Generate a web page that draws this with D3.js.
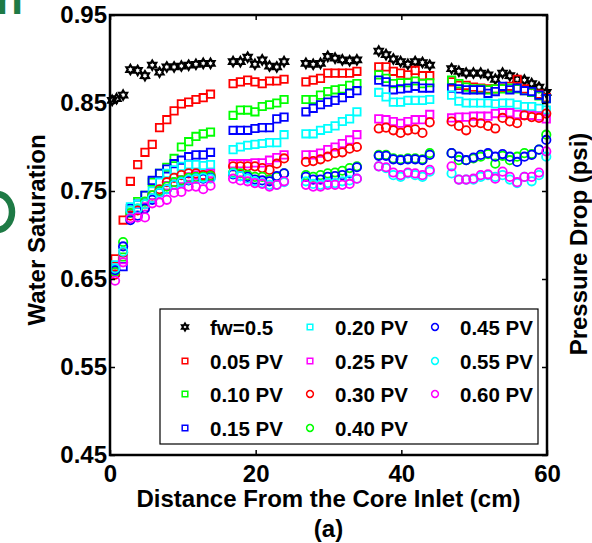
<!DOCTYPE html>
<html>
<head>
<meta charset="utf-8">
<script src="https://cdn.jsdelivr.net/npm/d3@7"></script>
<style>
body { margin: 0; background: #fff; }
svg { display: block; font-family: "Liberation Sans", Arial, sans-serif; font-weight: bold; }
</style>
</head>
<body>
<div id="chart"></div>
<script>
// distances (cm) for the injected-PV series, and for the fw=0.5 steady-state series
const distance = [0.7, 1.8, 2.8, 3.8, 4.8, 5.8, 6.8, 7.8, 8.8, 9.8, 10.8, 11.8, 12.8, 13.8,
	16.9, 17.9, 18.9, 19.9, 20.9, 21.9, 22.9, 23.9,
	26.9, 27.9, 28.9, 29.9, 30.9, 31.9, 32.9, 33.9,
	36.9, 37.9, 38.9, 39.9, 40.9, 41.9, 42.9, 43.9,
	46.9, 47.9, 48.9, 49.9, 50.9, 51.9, 52.9, 53.9, 54.9, 55.9, 56.9, 57.9, 58.9, 59.9];
const fwDistance = [0.3, 0.9, 1.8, 2.8, 3.8, 4.8, 5.8, 6.8, 7.8, 8.8, 9.8, 10.8, 11.8, 12.8, 13.8,
	16.9, 17.9, 18.9, 19.9, 20.9, 21.9, 22.9, 23.9,
	26.9, 27.9, 28.9, 29.9, 30.9, 31.9, 32.9, 33.9,
	36.9, 37.9, 38.9, 39.9, 40.9, 41.9, 42.9, 43.9,
	46.9, 47.9, 48.9, 49.9, 50.9, 51.9, 52.9, 53.9, 54.9, 55.9, 56.9, 57.9, 58.9, 59.9];

const fw05 = [0.853, 0.855, 0.859, 0.888, 0.887, 0.881, 0.893, 0.885, 0.891, 0.891, 0.892, 0.893, 0.894, 0.895, 0.895,
	0.897, 0.897, 0.902, 0.894, 0.899, 0.892, 0.891, 0.897,
	0.895, 0.894, 0.895, 0.903, 0.901, 0.899, 0.898, 0.899,
	0.909, 0.905, 0.900, 0.897, 0.894, 0.897, 0.896, 0.893,
	0.889, 0.886, 0.884, 0.884, 0.884, 0.882, 0.877, 0.884, 0.881, 0.877, 0.876, 0.872, 0.868, 0.862];

const pv05 = [0.673, 0.717, 0.761, 0.780, 0.794, 0.803, 0.822, 0.831, 0.841, 0.849, 0.851, 0.854, 0.856, 0.860,
	0.872, 0.874, 0.876, 0.874, 0.872, 0.875, 0.875, 0.877,
	0.874, 0.876, 0.878, 0.884, 0.884, 0.884, 0.884, 0.886,
	0.891, 0.891, 0.886, 0.884, 0.882, 0.887, 0.881, 0.881,
	0.874, 0.870, 0.870, 0.868, 0.867, 0.866, 0.866, 0.867, 0.869, 0.877, 0.866, 0.862, 0.860, 0.856];
const pv10 = [0.660, 0.675, 0.728, 0.738, 0.745, 0.760, 0.770, 0.777, 0.787, 0.800, 0.806, 0.812, 0.815, 0.817,
	0.836, 0.842, 0.842, 0.840, 0.846, 0.848, 0.850, 0.854,
	0.854, 0.854, 0.859, 0.863, 0.865, 0.866, 0.870, 0.872,
	0.882, 0.878, 0.872, 0.873, 0.873, 0.875, 0.872, 0.873,
	0.876, 0.872, 0.868, 0.866, 0.866, 0.865, 0.866, 0.866, 0.867, 0.866, 0.864, 0.862, 0.858, 0.855];
const pv15 = [0.662, 0.664, 0.730, 0.735, 0.745, 0.762, 0.770, 0.775, 0.781, 0.785, 0.789, 0.791, 0.791, 0.794,
	0.819, 0.819, 0.819, 0.821, 0.822, 0.822, 0.832, 0.834,
	0.840, 0.844, 0.848, 0.851, 0.853, 0.856, 0.861, 0.864,
	0.876, 0.874, 0.865, 0.866, 0.867, 0.869, 0.867, 0.867,
	0.867, 0.866, 0.865, 0.865, 0.865, 0.861, 0.863, 0.869, 0.865, 0.867, 0.864, 0.863, 0.859, 0.855];
const pv20 = [0.666, 0.680, 0.732, 0.735, 0.738, 0.750, 0.760, 0.770, 0.774, 0.778, 0.780, 0.780, 0.779, 0.780,
	0.797, 0.800, 0.802, 0.803, 0.804, 0.805, 0.805, 0.814,
	0.815, 0.815, 0.819, 0.821, 0.824, 0.829, 0.832, 0.840,
	0.862, 0.857, 0.851, 0.851, 0.853, 0.853, 0.853, 0.854,
	0.859, 0.852, 0.850, 0.850, 0.850, 0.850, 0.849, 0.850, 0.850, 0.848, 0.846, 0.846, 0.844, 0.842];
const pv25 = [0.658, 0.672, 0.725, 0.728, 0.732, 0.742, 0.750, 0.756, 0.760, 0.763, 0.766, 0.768, 0.768, 0.770,
	0.781, 0.781, 0.781, 0.782, 0.782, 0.785, 0.788, 0.791,
	0.791, 0.791, 0.793, 0.797, 0.800, 0.804, 0.808, 0.814,
	0.832, 0.831, 0.829, 0.827, 0.829, 0.831, 0.831, 0.837,
	0.833, 0.834, 0.834, 0.835, 0.835, 0.835, 0.838, 0.839, 0.839, 0.837, 0.836, 0.836, 0.835, 0.832];
const pv30 = [0.655, 0.680, 0.722, 0.728, 0.735, 0.745, 0.752, 0.760, 0.765, 0.768, 0.770, 0.770, 0.768, 0.768,
	0.778, 0.778, 0.778, 0.778, 0.776, 0.774, 0.781, 0.787,
	0.783, 0.784, 0.786, 0.789, 0.793, 0.794, 0.798, 0.800,
	0.821, 0.822, 0.819, 0.816, 0.819, 0.820, 0.816, 0.828,
	0.829, 0.824, 0.819, 0.828, 0.827, 0.824, 0.821, 0.833, 0.829, 0.827, 0.836, 0.834, 0.833, 0.838];
const pv40 = [0.658, 0.692, 0.725, 0.730, 0.738, 0.745, 0.750, 0.755, 0.760, 0.762, 0.765, 0.766, 0.766, 0.767,
	0.771, 0.770, 0.768, 0.766, 0.766, 0.763, 0.766, 0.770,
	0.768, 0.766, 0.768, 0.770, 0.771, 0.773, 0.776, 0.778,
	0.791, 0.791, 0.787, 0.786, 0.787, 0.787, 0.786, 0.793,
	0.793, 0.785, 0.785, 0.787, 0.789, 0.792, 0.781, 0.790, 0.785, 0.789, 0.793, 0.792, 0.797, 0.814];
const pv45 = [0.660, 0.687, 0.717, 0.722, 0.730, 0.740, 0.748, 0.752, 0.757, 0.760, 0.762, 0.764, 0.764, 0.765,
	0.769, 0.767, 0.766, 0.763, 0.762, 0.761, 0.767, 0.770,
	0.766, 0.763, 0.763, 0.766, 0.767, 0.768, 0.770, 0.777,
	0.790, 0.790, 0.786, 0.785, 0.786, 0.786, 0.785, 0.791,
	0.793, 0.789, 0.785, 0.788, 0.791, 0.793, 0.789, 0.792, 0.789, 0.783, 0.789, 0.791, 0.797, 0.808];
const pv55 = [0.662, 0.681, 0.728, 0.730, 0.735, 0.742, 0.748, 0.752, 0.757, 0.760, 0.763, 0.764, 0.765, 0.764,
	0.770, 0.767, 0.764, 0.761, 0.759, 0.757, 0.757, 0.760,
	0.761, 0.758, 0.757, 0.759, 0.759, 0.761, 0.762, 0.764,
	0.778, 0.776, 0.768, 0.766, 0.770, 0.768, 0.766, 0.772,
	0.770, 0.763, 0.763, 0.763, 0.766, 0.768, 0.766, 0.768, 0.763, 0.759, 0.766, 0.761, 0.768, 0.789];
const pv60 = [0.648, 0.669, 0.719, 0.720, 0.720, 0.736, 0.737, 0.740, 0.748, 0.749, 0.755, 0.755, 0.752, 0.756,
	0.764, 0.762, 0.761, 0.759, 0.758, 0.755, 0.757, 0.761,
	0.757, 0.755, 0.755, 0.757, 0.757, 0.757, 0.758, 0.764,
	0.778, 0.777, 0.771, 0.768, 0.771, 0.770, 0.768, 0.774,
	0.778, 0.763, 0.763, 0.764, 0.768, 0.769, 0.764, 0.772, 0.766, 0.760, 0.766, 0.766, 0.771, 0.795];

const yTicks = [0.45, 0.55, 0.65, 0.75, 0.85, 0.95];
const xTicks = [0, 20, 40, 60];

const series = [
	{ name: "fw=0.5", xs: fwDistance, ys: fw05, color: "#000000", shape: "star" },
	{ name: "0.05 PV", xs: distance, ys: pv05, color: "#ff0000", shape: "square" },
	{ name: "0.10 PV", xs: distance, ys: pv10, color: "#00ff00", shape: "square" },
	{ name: "0.15 PV", xs: distance, ys: pv15, color: "#0000ff", shape: "square" },
	{ name: "0.20 PV", xs: distance, ys: pv20, color: "#00ffff", shape: "square" },
	{ name: "0.25 PV", xs: distance, ys: pv25, color: "#ff00ff", shape: "square" },
	{ name: "0.30 PV", xs: distance, ys: pv30, color: "#ff0000", shape: "circle" },
	{ name: "0.40 PV", xs: distance, ys: pv40, color: "#00ff00", shape: "circle" },
	{ name: "0.45 PV", xs: distance, ys: pv45, color: "#0000ff", shape: "circle" },
	{ name: "0.55 PV", xs: distance, ys: pv55, color: "#00ffff", shape: "circle" },
	{ name: "0.60 PV", xs: distance, ys: pv60, color: "#ff00ff", shape: "circle" },
];

const width = 592, height = 543;
const plot = { left: 110, right: 547, top: 15, bottom: 455 };

const svg = d3.select("#chart").append("svg").attr("width", width).attr("height", height);

const x = d3.scaleLinear().domain([0, 60]).range([plot.left, plot.right]);
const y = d3.scaleLinear().domain([0.45, 0.95]).range([plot.bottom, plot.top]);

// marker shapes
function markerPath(shape, s) {
	if (shape === "square") return `M${-s},${-s}h${2 * s}v${2 * s}h${-2 * s}Z`;
	if (shape === "circle") {
		const p = d3.path();
		p.arc(0, 0, s, 0, 2 * Math.PI);
		p.closePath();
		return p.toString();
	}
	const pts = [];
	for (let i = 0; i < 12; i++) {
		const a = (Math.PI / 6) * i - Math.PI / 2;
		const r = i % 2 ? s * 0.58 : s;
		pts.push([r * Math.cos(a), r * Math.sin(a)]);
	}
	return "M" + pts.join("L") + "Z";
}
const markerSize = { square: 3.7, circle: 4.2, star: 4.6 };

// cropped green glyphs from the neighbouring panel
svg.append("text").attr("x", -4).attr("y", 14)
	.attr("font-size", 44).attr("fill", "#1e7a45").text("n");
svg.append("ellipse").attr("cx", -3).attr("cy", 212).attr("rx", 15).attr("ry", 18)
	.attr("fill", "none").attr("stroke", "#1e7a45").attr("stroke-width", 6.5);

// data
series.forEach((s) => {
	const pts = s.xs.map((d, i) => ({ x: d, y: s.ys[i] }));
	svg.append("g")
		.selectAll("path")
		.data(pts)
		.join("path")
		.attr("transform", (d) => `translate(${x(d.x)},${y(d.y)})`)
		.attr("d", markerPath(s.shape, markerSize[s.shape]))
		.attr("fill", "none")
		.attr("stroke", s.color)
		.attr("stroke-width", s.shape === "star" ? 2.2 : 1.8);
});

// axes
const axisFont = (g) => g.selectAll("text").attr("font-size", 24).attr("font-weight", "bold")
	.attr("font-family", "Liberation Sans, Arial, sans-serif").attr("fill", "#000");
const tidy = (g) => {
	g.select(".domain").remove();
	g.selectAll("line").attr("stroke", "#000").attr("stroke-width", 1.5);
};

svg.append("g").attr("transform", `translate(${plot.left},0)`)
	.call(d3.axisLeft(y).tickValues(yTicks).tickFormat(d3.format(".2f")).tickSize(-5).tickPadding(3))
	.call(tidy).call(axisFont);
svg.append("g").attr("transform", `translate(${plot.right},0)`)
	.call(d3.axisRight(y).tickValues(yTicks).tickFormat("").tickSize(-5))
	.call(tidy);
svg.append("g").attr("transform", `translate(0,${plot.bottom})`)
	.call(d3.axisBottom(x).tickValues(xTicks).tickFormat(d3.format("d")).tickSize(-5).tickPadding(10))
	.call(tidy).call(axisFont);
svg.append("g").attr("transform", `translate(0,${plot.top})`)
	.call(d3.axisTop(x).tickValues(xTicks).tickFormat("").tickSize(-5))
	.call(tidy);

svg.append("rect")
	.attr("x", plot.left).attr("y", plot.top)
	.attr("width", plot.right - plot.left).attr("height", plot.bottom - plot.top)
	.attr("fill", "none").attr("stroke", "#000").attr("stroke-width", 2.5);

// axis titles
svg.append("text").attr("x", (plot.left + plot.right) / 2).attr("y", 507)
	.attr("text-anchor", "middle").attr("font-size", 24).text("Distance From the Core Inlet (cm)");
svg.append("text").attr("x", (plot.left + plot.right) / 2).attr("y", 537)
	.attr("text-anchor", "middle").attr("font-size", 24).text("(a)");
svg.append("text").attr("transform", "translate(45,230) rotate(-90)")
	.attr("text-anchor", "middle").attr("font-size", 24).text("Water Saturation");
svg.append("text").attr("transform", "translate(587,244) rotate(-90)")
	.attr("text-anchor", "middle").attr("font-size", 24).text("Pressure Drop (psi)");

// legend
const legend = svg.append("g");
legend.append("rect").attr("x", 160).attr("y", 309).attr("width", 378).attr("height", 135)
	.attr("fill", "#fff").attr("stroke", "#000").attr("stroke-width", 1.2);
const colX = [185, 310, 435];
const rowY = [327, 361, 394, 428];
series.forEach((s, i) => {
	const col = Math.floor(i / 4), row = i % 4;
	const item = legend.append("g").attr("transform", `translate(${colX[col]},${rowY[row]})`);
	item.append("path")
		.attr("d", markerPath(s.shape, s.shape === "circle" ? 3.4 : s.shape === "star" ? 3.6 : 2.8))
		.attr("fill", "none").attr("stroke", s.color).attr("stroke-width", s.shape === "star" ? 2 : 1.5);
	item.append("text").attr("x", 25).attr("y", 7.5).attr("font-size", 20.5).text(s.name);
});
</script>
</body>
</html>
